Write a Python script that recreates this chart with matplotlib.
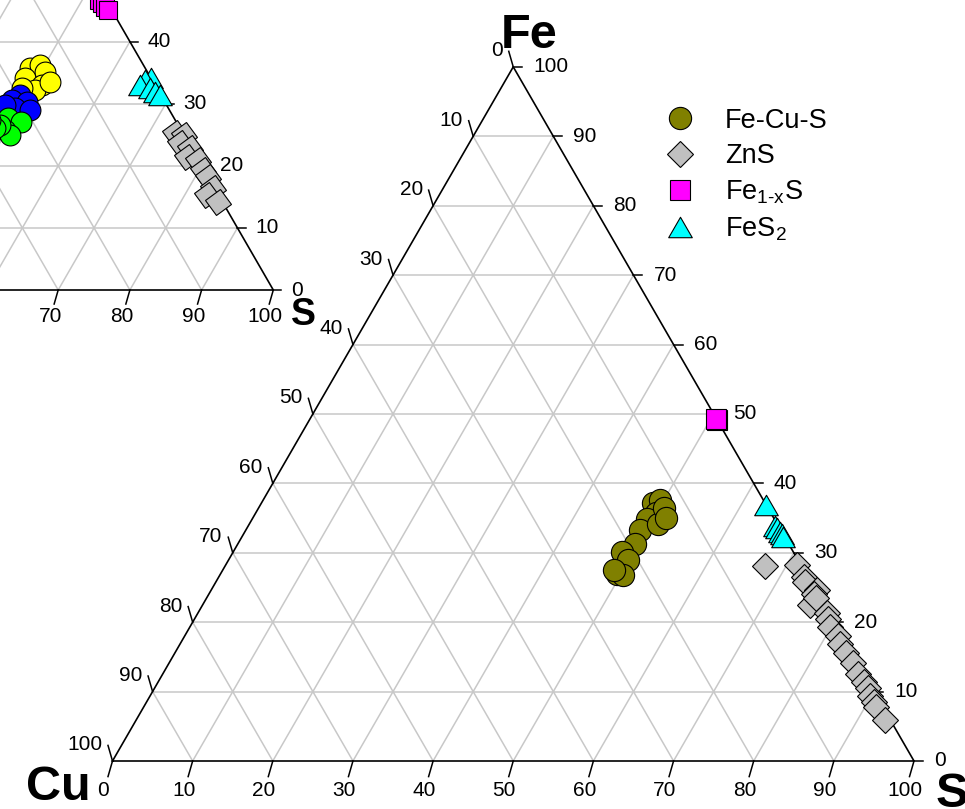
import numpy as np
import matplotlib
matplotlib.use('Agg')
import matplotlib.pyplot as plt
from matplotlib.path import Path
from matplotlib.markers import MarkerStyle
from matplotlib.transforms import Affine2D

plt.rcParams['font.family'] = ['Liberation Sans', 'DejaVu Sans']
plt.rcParams['mathtext.fontset'] = 'custom'
plt.rcParams['mathtext.rm'] = 'Liberation Sans'
plt.rcParams['mathtext.it'] = 'Liberation Sans'
plt.rcParams['mathtext.bf'] = 'Liberation Sans:bold'

# ---------------- data (atomic %) ----------------
# main diagram
fecus_fe = [37.1, 37.6, 35.7, 34.9, 33.3, 34.2, 36.5, 35.0, 31.3, 30.1, 28.9, 27.0, 26.8, 27.5]
fecus_s  = [48.9, 49.5, 50.0, 49.2, 49.2, 51.0, 50.5, 51.5, 49.5, 48.5, 49.9, 49.4, 50.3, 48.8]
fecus_cu = [14.0, 12.9, 14.3, 15.9, 17.5, 14.8, 13.0, 13.5, 19.2, 21.4, 21.2, 23.6, 22.9, 23.7]

zns_fe = [28.1, 28.3, 26.5, 25.8, 24.6, 24.0, 22.5, 23.5, 21.3, 20.5, 19.3, 18.0, 16.9, 15.5,
          14.1, 12.5, 11.4, 10.5, 9.3, 8.5, 7.8, 5.9]
zns_s  = [67.4, 71.3, 73.0, 73.5, 75.6, 75.5, 75.8, 76.0, 78.5, 79.0, 79.9, 81.5, 82.3, 83.8,
          85.4, 86.8, 88.0, 89.0, 89.9, 90.8, 91.4, 93.4]
zns_cu = [4.5, 0.4, 0.5, 0.7, -0.2, 0.5, 1.7, 0.5, 0.2, 0.5, 0.8, 0.5, 0.8, 0.7,
          0.5, 0.7, 0.6, 0.5, 0.8, 0.7, 0.8, 0.7]

po_fe = [49.1, 49.3]
po_s  = [50.9, 50.7]
po_cu = [0.0, 0.0]

py_fe = [36.9, 33.8, 33.5, 33.0, 32.7, 32.2]
py_s  = [63.1, 65.8, 66.2, 66.8, 67.2, 67.5]
py_cu = [0.0, 0.4, 0.3, 0.2, 0.1, 0.3]

# second (partly visible) diagram
y_fe = [35.8, 36.2, 35.1, 34.1, 33.0, 32.2, 33.5, 32.5]
y_s  = [48.2, 49.4, 50.6, 48.3, 51.2, 50.7, 52.1, 48.7]
y_cu = [16.0, 14.4, 14.3, 17.6, 15.8, 17.1, 14.4, 18.8]

b_fe = [31.4, 30.6, 30.3, 29.3, 29.8, 29.0]
b_s  = [49.0, 48.3, 50.5, 49.3, 47.7, 51.6]
b_cu = [19.6, 21.1, 19.2, 21.4, 22.5, 19.4]

g_fe = [27.7, 27.1, 25.8, 25.0, 26.6, 26.1, 27.4]
g_s  = [49.2, 51.2, 49.7, 50.8, 48.6, 48.2, 46.8]
g_cu = [23.1, 21.7, 24.5, 24.2, 24.8, 25.7, 25.8]

m_fe = [48.0, 46.7, 46.2, 45.6, 45.1]
m_s  = [52.0, 52.4, 53.0, 53.7, 54.4]
m_cu = [0.0, 0.9, 0.8, 0.7, 0.5]

c_fe = [34.1, 33.8, 33.0, 32.5, 31.9, 31.4]
c_s  = [65.9, 65.2, 64.9, 66.5, 67.6, 68.5]
c_cu = [0.0, 1.0, 2.1, 1.0, 0.5, 0.1]

gz_fe = [25.3, 25.0, 23.7, 22.9, 21.4, 20.9, 19.3, 18.2, 16.4, 15.3, 14.2]
gz_s  = [73.6, 75.0, 75.2, 77.0, 77.3, 79.0, 80.5, 82.0, 83.4, 83.1, 85.2]
gz_cu = [1.1, 0.0, 1.1, 0.1, 1.3, 0.1, 0.2, 0.0, 0.2, 1.6, 0.6]

ticks = [0, 10, 20, 30, 40, 50, 60, 70, 80, 90, 100]

# ---------------- helpers ----------------
W_PX, H_PX = 965, 809
SQ3 = np.sqrt(3) / 2


def tern(fe, s, cu):
    fe = np.asarray(fe, float)
    s = np.asarray(s, float)
    cu = np.asarray(cu, float)
    tot = fe + s + cu
    fe, s = fe / tot, s / tot
    return s + fe / 2, fe * SQ3


def make_axes(fig, cu_x, base_y, width, z):
    ax = fig.add_axes([0, 0, 1, 1], zorder=z)
    ax.set_xlim((0 - cu_x) / width, (W_PX - cu_x) / width)
    yfb = H_PX - base_y
    ax.set_ylim((0 - yfb) / width, (H_PX - yfb) / width)
    ax.axis('off')
    ax.patch.set_alpha(0)
    return ax


def draw_frame(ax, width, k, tfs, corner_fs, corner_offsets):
    px = 72.0 / 100.0  # pixel -> points
    L = 9.0 * k / width
    f = np.linspace(0.1, 0.9, 9)
    for v in f:
        x, y = tern([v, v], [0, 1 - v], [1 - v, 0])
        ax.plot(x, y, color='#c8c8c8', lw=1.1, zorder=1)
        x, y = tern([0, 1 - v], [v, v], [1 - v, 0])
        ax.plot(x, y, color='#c8c8c8', lw=1.1, zorder=1)
        x, y = tern([0, 1 - v], [1 - v, 0], [v, v])
        ax.plot(x, y, color='#c8c8c8', lw=1.1, zorder=1)
    x, y = tern([0, 0, 1, 0], [0, 1, 0, 0], [1, 0, 0, 1])
    ax.plot(x, y, color='black', lw=1.2, zorder=2, solid_joinstyle='miter')
    for t in ticks:
        v = t / 100.0
        bx, by = v, 0.0
        ax.plot([bx, bx - 0.5 * L], [by, by - 2 * SQ3 * L], color='black', lw=1.1)
        ax.annotate(str(t), (bx, by), xytext=(-9 * k * px, -29 * k * px),
                    textcoords='offset points', ha='center', va='center',
                    fontsize=tfs, annotation_clip=False)
        lx, ly = (1 - v) / 2, (1 - v) * SQ3
        ax.plot([lx, lx - 0.5 * L], [ly, ly + 2 * SQ3 * L], color='black', lw=1.1)
        ax.annotate(str(t), (lx, ly), xytext=(-10 * k * px, 16 * k * px),
                    textcoords='offset points', ha='right', va='center',
                    fontsize=tfs, annotation_clip=False)
        rx, ry = 1 - v / 2, v * SQ3
        ax.plot([rx, rx + L], [ry, ry], color='black', lw=1.1)
        ax.annotate(str(t), (rx, ry), xytext=(20 * k * px, 0),
                    textcoords='offset points', ha='left', va='center',
                    fontsize=tfs, annotation_clip=False)
    corners = {'Fe': (0.5, SQ3), 'Cu': (0.0, 0.0), 'S': (1.0, 0.0)}
    for name, (cx, cy) in corners.items():
        ox, oy = corner_offsets[name]
        ax.annotate(name, (cx, cy), xytext=(ox * px, oy * px),
                    textcoords='offset points', ha='center', va='baseline',
                    fontsize=corner_fs, fontweight='bold', annotation_clip=False)


tri = MarkerStyle(Path([(-1, -0.866), (1, -0.866), (0, 0.866), (-1, -0.866)],
                       [Path.MOVETO, Path.LINETO, Path.LINETO, Path.CLOSEPOLY]))
rot_sq = MarkerStyle('s', transform=Affine2D().rotate_deg(35))

mk = dict(linestyle='none', markeredgecolor='black', markeredgewidth=0.8, zorder=5)

fig = plt.figure(figsize=(W_PX / 100, H_PX / 100), dpi=100)

# ---------------- second diagram (cropped, upper left) ----------------
ax2 = make_axes(fig, -443.7, 290.0, 717.0, 1)
draw_frame(ax2, 717.0, 0.9, 15, 27,
           {'Fe': (14, 17), 'Cu': (-48, -35), 'S': (30, -35)})
ax2.plot(*tern(m_fe, m_s, m_cu), marker='s', markersize=13.5, markerfacecolor='#ff00ff', **mk)
ax2.plot(*tern(c_fe, c_s, c_cu), marker=tri, markersize=17, markerfacecolor='#00ffff', **mk)
ax2.plot(*tern(gz_fe, gz_s, gz_cu), marker=rot_sq, markersize=13.5, markerfacecolor='#c0c0c0', **mk)
ax2.plot(*tern(y_fe, y_s, y_cu), marker='o', markersize=15, markerfacecolor='#ffff00', **mk)
ax2.plot(*tern(b_fe, b_s, b_cu), marker='o', markersize=15, markerfacecolor='#0000ff', **mk)
ax2.plot(*tern(g_fe, g_s, g_cu), marker='o', markersize=15, markerfacecolor='#00ff00', **mk)

# ---------------- main diagram ----------------
ax = make_axes(fig, 112.5, 761.0, 801.5, 2)
draw_frame(ax, 801.5, 1.0, 15, 35,
           {'Fe': (16, 19), 'Cu': (-54, -39), 'S': (38, -46)})
h1, = ax.plot(*tern(fecus_fe, fecus_s, fecus_cu), marker='o', markersize=16,
              markerfacecolor='#808000', **mk)
h2, = ax.plot(*tern(zns_fe, zns_s, zns_cu), marker='D', markersize=13,
              markerfacecolor='#c0c0c0', **mk)
h3, = ax.plot(*tern(po_fe, po_s, po_cu), marker='s', markersize=14,
              markerfacecolor='#ff00ff', **mk)
h4, = ax.plot(*tern(py_fe, py_s, py_cu), marker=tri, markersize=17,
              markerfacecolor='#00ffff', **mk)

ax.legend([h1, h2, h3, h4],
          ['Fe-Cu-S', 'ZnS', r'Fe$_{\mathregular{1\text{-}x}}$S', r'FeS$_{\mathregular{2}}$'],
          loc='upper left', bbox_to_anchor=(642 / W_PX, 1 - 97 / H_PX),
          bbox_transform=fig.transFigure, frameon=False, fontsize=19.5,
          borderaxespad=0, borderpad=0.4, handletextpad=0.667, handlelength=2.0,
          labelspacing=0.35, numpoints=1)

fig.savefig('out.png', dpi=100)
